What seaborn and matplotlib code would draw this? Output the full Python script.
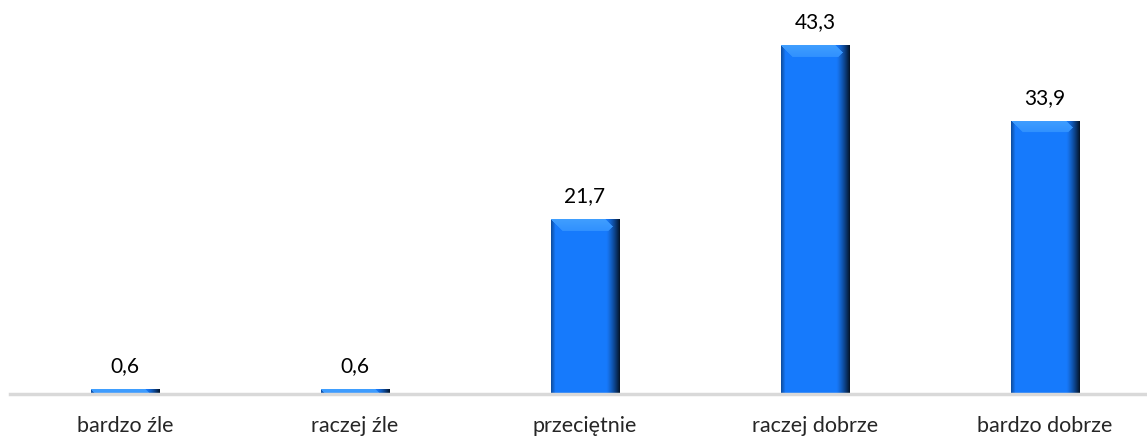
import numpy as np
import pandas as pd
import matplotlib
matplotlib.use("Agg")
import matplotlib.pyplot as plt
import seaborn as sns

categories = ["bardzo źle", "raczej źle", "przeciętnie", "raczej dobrze", "bardzo dobrze"]
values = [0.6, 0.6, 21.7, 43.3, 33.9]
value_labels = ["0,6", "0,6", "21,7", "43,3", "33,9"]

df = pd.DataFrame({"kategoria": categories, "procent": values})

sns.set_style("white")
plt.rcParams["font.family"] = ["Lato", "DejaVu Sans"]

fig = plt.figure(figsize=(11.47, 4.39), dpi=100)
ax = fig.add_axes([10 / 1147, 44 / 439, 1150 / 1147, 349 / 439])

sns.barplot(data=df, x="kategoria", y="procent", color="#1a7af8",
            width=0.296, saturation=1, ax=ax, edgecolor="none")

ax.set_xlim(-0.5, 4.5)
ax.set_ylim(0, 43.3)
fig.canvas.draw()

# bevel-like shading inside each bar, sized in pixels
base = np.array([0.09, 0.48, 0.99])
light = np.array([0.25, 0.62, 1.0])
bev = 12
for bar in ax.patches:
    x0, y0 = bar.get_x(), bar.get_y()
    w, h = bar.get_width(), bar.get_height()
    p0 = ax.transData.transform((x0, y0))
    p1 = ax.transData.transform((x0 + w, y0 + h))
    npx = max(int(round(p1[0] - p0[0])), 2)
    npy = max(int(round(p1[1] - p0[1])), 2)
    img = np.ones((npy, npx, 3)) * base
    cols = np.arange(npx)
    # dark right edge
    right = np.clip((cols - (npx - 14)) / 14, 0, 1)
    fac = 1 - 0.9 * right ** 1.3
    left = np.clip((4 - cols) / 4, 0, 1)
    fac = fac * (1 - 0.35 * left)
    img = img * fac[None, :, None]
    # top bevel trapezoid (row 0 = top)
    for r in range(min(bev, npy)):
        a, b = r, npx - r
        if a < b:
            t = r / bev
            col = light * (1 - 0.4 * t) + base * 0.4 * t
            img[r, a:max(a, min(b, npx - 14 + r)), :] = col
    im = ax.imshow(img, extent=[x0, x0 + w, y0, y0 + h], origin="upper",
                   aspect="auto", zorder=bar.get_zorder() + 0.1,
                   interpolation="bilinear")
    im.set_clip_path(bar)
ax.set_xlim(-0.5, 4.5)
ax.set_ylim(0, 43.3)

for bar, lab in zip(ax.patches, value_labels):
    ax.annotate(lab, (bar.get_x() + bar.get_width() / 2, bar.get_height()),
                xytext=(0, 10), textcoords="offset points", ha="center", va="bottom",
                fontsize=15, color="#000000")

ax.set_xlabel("")
ax.set_ylabel("")
ax.set_yticks([])
ax.tick_params(axis="x", length=0, pad=15, labelsize=15.5)
for s in ["top", "right", "left"]:
    ax.spines[s].set_visible(False)
ax.spines["bottom"].set_color("#d9d9d9")
ax.spines["bottom"].set_linewidth(2.5)

fig.savefig("out.png", dpi=100)
